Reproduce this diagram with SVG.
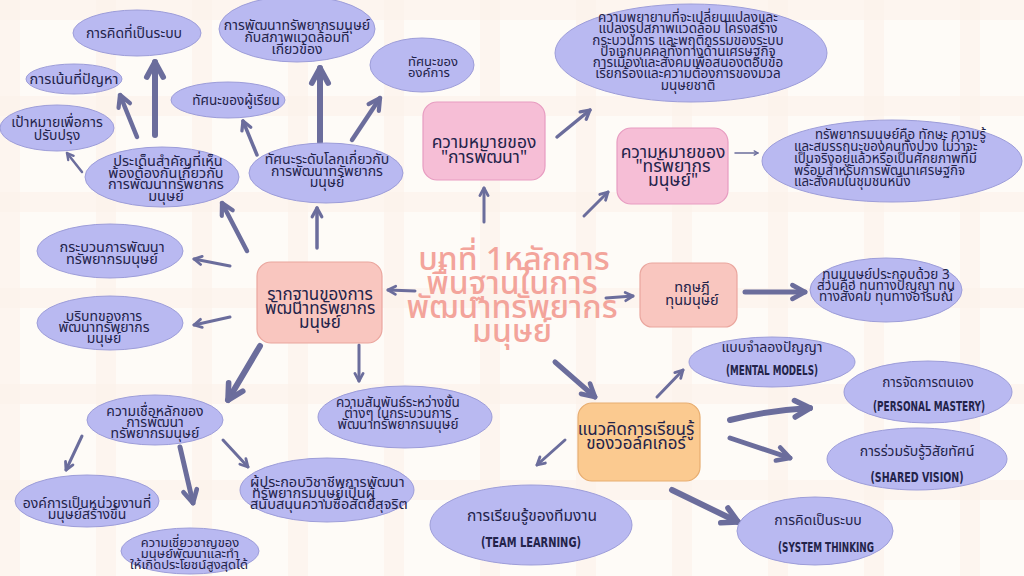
<svg xmlns="http://www.w3.org/2000/svg" width="1024" height="576" viewBox="0 0 1024 576">
<defs>
<pattern id="grid" x="0" y="0" width="96" height="96" patternUnits="userSpaceOnUse">
<rect width="96" height="96" fill="#fefbf7"/>
<rect x="0" y="0" width="20" height="96" fill="#fcf2ea" opacity="0.6"/>
<rect x="0" y="0" width="96" height="20" fill="#fcf2ea" opacity="0.6"/>
</pattern>
<marker id="ah" viewBox="0 0 10 10" markerWidth="3.6" markerHeight="3.6" refX="8.5" refY="5" orient="auto" markerUnits="strokeWidth" overflow="visible">
<path d="M1.5,1.2 L8.5,5 L1.5,8.8" fill="none" stroke="#6b6d9c" stroke-width="2.6" stroke-linecap="round" stroke-linejoin="round"/>
</marker>
</defs>
<style>
.el{fill:#b9b9f1;stroke:#9d9dd9;stroke-width:1}
.t{font-family:"Noto Sans Thai","Noto Sans Thai Looped","Loma","Garuda","Noto Sans","DejaVu Sans",sans-serif;fill:#23234a;text-anchor:middle}
.en{font-family:"DejaVu Sans Condensed","Liberation Sans Narrow","Roboto",sans-serif;font-weight:bold;font-size:14.5px;fill:#23234a;text-anchor:middle}
.pink{fill:#f6bed6;stroke:#e79cc1;stroke-width:1.2}
.sal{fill:#f9c6bf;stroke:#eaa69e;stroke-width:1.2}
.org{fill:#fbca90;stroke:#e7ad70;stroke-width:1.2}
.ar line,.ar path{stroke:#6b6d9c;fill:none;stroke-linecap:round;marker-end:url(#ah)}
.title{font-family:"Noto Sans Thai","Noto Sans Thai Looped","Loma","Garuda","Noto Sans","DejaVu Sans",sans-serif;font-size:32px;font-weight:500;fill:#f3a49b;text-anchor:middle}
</style>
<rect width="1024" height="576" fill="url(#grid)"/>

<g id="connectors" class="ar">
<line x1="155" y1="135" x2="155" y2="62" stroke-width="6"/>
<line x1="137" y1="137" x2="120" y2="95" stroke-width="4.5"/>
<line x1="82" y1="172" x2="67" y2="153" stroke-width="2.5"/>
<line x1="257" y1="155" x2="243" y2="121" stroke-width="3.5"/>
<line x1="320" y1="142" x2="320" y2="68" stroke-width="6"/>
<line x1="352" y1="140" x2="380" y2="98" stroke-width="4.5"/>
<line x1="317" y1="248" x2="317" y2="208" stroke-width="3.5"/>
<line x1="247" y1="251" x2="222" y2="203" stroke-width="4.5"/>
<line x1="230" y1="266" x2="194" y2="259" stroke-width="3"/>
<line x1="230" y1="317" x2="194" y2="325" stroke-width="3"/>
<line x1="260" y1="346" x2="228" y2="400" stroke-width="6"/>
<line x1="359" y1="345" x2="359" y2="381" stroke-width="3"/>
<line x1="415" y1="291" x2="388" y2="290" stroke-width="3"/>
<line x1="484" y1="222" x2="484" y2="188" stroke-width="3"/>
<line x1="557" y1="137" x2="590" y2="110" stroke-width="3.5"/>
<line x1="584" y1="216" x2="608" y2="192" stroke-width="3"/>
<line x1="735" y1="153" x2="758" y2="153" stroke-width="1.5"/>
<line x1="606" y1="298" x2="633" y2="296" stroke-width="3"/>
<line x1="745" y1="292" x2="805" y2="292" stroke-width="5"/>
<line x1="555" y1="362" x2="595" y2="397" stroke-width="5"/>
<line x1="657" y1="397" x2="683" y2="370" stroke-width="3"/>
<path d="M730,420 Q770,410 810,408" stroke-width="6"/>
<line x1="730" y1="438" x2="790" y2="458" stroke-width="5"/>
<line x1="672" y1="490" x2="738" y2="522" stroke-width="6"/>
<line x1="565" y1="440" x2="537" y2="465" stroke-width="3"/>
<line x1="82" y1="436" x2="66" y2="470" stroke-width="3"/>
<line x1="180" y1="447" x2="193" y2="503" stroke-width="5"/>
<line x1="223" y1="440" x2="248" y2="467" stroke-width="3"/>
</g>

<g id="n1"><ellipse class="el" cx="137" cy="33" rx="64" ry="23"/><text class="t" font-size="14" x="134" y="38">การคิดที่เป็นระบบ</text></g>
<g id="n2"><ellipse class="el" cx="74" cy="79" rx="48" ry="15"/><text class="t" font-size="14.5" x="74" y="84">การเน้นที่ปัญหา</text></g>
<g id="n3"><ellipse class="el" cx="57" cy="128" rx="57" ry="23"/><text class="t" font-size="14"><tspan x="57" y="127">เป้าหมายเพื่อการ</tspan><tspan x="57" y="140">ปรับปรุง</tspan></text></g>
<g id="n4"><ellipse class="el" cx="162" cy="177" rx="77" ry="30"/><text class="t" font-size="14.5"><tspan x="168" y="166">ประเด็นสำคัญที่เห็น</tspan><tspan x="166" y="177.5">พ้องต้องกันเกี่ยวกับ</tspan><tspan x="166" y="189">การพัฒนาทรัพยากร</tspan><tspan x="166" y="200.5">มนุษย์</tspan></text></g>
<g id="n5"><ellipse class="el" cx="297" cy="29" rx="78" ry="33"/><text class="t" font-size="14"><tspan x="297" y="30">การพัฒนาทรัพยากรมนุษย์</tspan><tspan x="297" y="42">กับสภาพแวดล้อมที่</tspan><tspan x="297" y="54">เกี่ยวข้อง</tspan></text></g>
<g id="n6"><ellipse class="el" cx="228" cy="100" rx="57" ry="18"/><text class="t" font-size="13.5" x="236" y="105">ทัศนะของผู้เรียน</text></g>
<g id="n7"><ellipse class="el" cx="422" cy="65" rx="52" ry="27"/><text class="t" font-size="13" style="text-anchor:start"><tspan x="408" y="66">ทัศนะของ</tspan><tspan x="408" y="77">องค์การ</tspan></text></g>
<g id="n8"><ellipse class="el" cx="326" cy="173" rx="77" ry="30"/><text class="t" font-size="14"><tspan x="327" y="164">ทัศนะระดับโลกเกี่ยวกับ</tspan><tspan x="327" y="176">การพัฒนาทรัพยากร</tspan><tspan x="327" y="187">มนุษย์</tspan></text></g>
<g id="n9"><rect class="pink" x="423" y="102" width="122" height="78" rx="14"/><text class="t" font-size="17.5"><tspan x="484" y="148">ความหมายของ</tspan><tspan x="484" y="163">"การพัฒนา"</tspan></text></g>
<g id="n10"><ellipse class="el" cx="691" cy="53" rx="136" ry="49"/><text class="t" font-size="13.5"><tspan x="688" y="22">ความพยายามที่จะเปลี่ยนแปลงและ</tspan><tspan x="688" y="33">แปลงรูปสภาพแวดล้อม โครงสร้าง</tspan><tspan x="688" y="45">กระบวนการ และพฤติกรรมของระบบ</tspan><tspan x="688" y="56">ปัจเจกบุคคลทั้งทางด้านเศรษฐกิจ</tspan><tspan x="688" y="67">การเมืองและสังคมเพื่อสนองตอบข้อ</tspan><tspan x="688" y="78">เรียกร้องและความต้องการของมวล</tspan><tspan x="688" y="90">มนุษยชาติ</tspan></text></g>
<g id="n11"><rect class="pink" x="617" y="128" width="111" height="76" rx="14"/><text class="t" font-size="17.5"><tspan x="673" y="158">ความหมายของ</tspan><tspan x="673" y="172">"ทรัพยากร</tspan><tspan x="673" y="186">มนุษย์"</tspan></text></g>
<g id="n12"><ellipse class="el" cx="892" cy="161" rx="130" ry="41"/><text class="t" font-size="13.3" style="text-anchor:start"><tspan x="815" y="139">ทรัพยากรมนุษย์คือ ทักษะ ความรู้</tspan><tspan x="794" y="151">และสมรรถนะของคนทั้งปวง ไม่ว่าจะ</tspan><tspan x="794" y="163">เป็นจริงอยู่แล้วหรือเป็นศักยภาพที่มี</tspan><tspan x="794" y="175">พร้อมสำหรับการพัฒนาเศรษฐกิจ</tspan><tspan x="794" y="186">และสังคมในชุมชนหนึ่ง</tspan></text></g>
<g id="n13"><text class="title"><tspan x="514" y="270">บทที่ 1หลักการ</tspan><tspan x="512" y="294">พื้นฐานในการ</tspan><tspan x="512" y="318">พัฒนาทรัพยากร</tspan><tspan x="512" y="342">มนุษย์</tspan></text></g>
<g id="n14"><rect class="sal" x="640" y="263" width="97" height="64" rx="12"/><text class="t" font-size="14.5"><tspan x="692" y="292">ทฤษฎี</tspan><tspan x="692" y="305">ทุนมนุษย์</tspan></text></g>
<g id="n15"><ellipse class="el" cx="886" cy="290" rx="76" ry="32"/><text class="t" font-size="13.5"><tspan x="886" y="279">ทุนมนุษย์ประกอบด้วย 3</tspan><tspan x="886" y="290">ส่วนคือ ทุนทางปัญญา ทุน</tspan><tspan x="886" y="301">ทางสังคม ทุนทางอารมณ์</tspan></text></g>
<g id="n16"><rect class="sal" x="257" y="262" width="125" height="81" rx="14"/><text class="t" font-size="17"><tspan x="320" y="300">รากฐานของการ</tspan><tspan x="320" y="314">พัฒนาทรัพยากร</tspan><tspan x="320" y="328">มนุษย์</tspan></text></g>
<g id="n17"><ellipse class="el" cx="110" cy="251" rx="73" ry="27"/><text class="t" font-size="14.5"><tspan x="112" y="252">กระบวนการพัฒนา</tspan><tspan x="112" y="264">ทรัพยากรมนุษย์</tspan></text></g>
<g id="n18"><ellipse class="el" cx="110" cy="323" rx="73" ry="27"/><text class="t" font-size="14"><tspan x="104" y="321">บริบทของการ</tspan><tspan x="104" y="332">พัฒนาทรัพยากร</tspan><tspan x="104" y="343">มนุษย์</tspan></text></g>
<g id="n19"><ellipse class="el" cx="155" cy="420" rx="68" ry="25"/><text class="t" font-size="14"><tspan x="155" y="416">ความเชื่อหลักของ</tspan><tspan x="155" y="427">การพัฒนา</tspan><tspan x="155" y="438">ทรัพยากรมนุษย์</tspan></text></g>
<g id="n20"><ellipse class="el" cx="405" cy="417" rx="87" ry="31"/><text class="t" font-size="13.5"><tspan x="398" y="407">ความสัมพันธ์ระหว่างขั้น</tspan><tspan x="398" y="418">ต่างๆ ในกระบวนการ</tspan><tspan x="398" y="429">พัฒนาทรัพยากรมนุษย์</tspan></text></g>
<g id="n21"><ellipse class="el" cx="87" cy="501" rx="72" ry="26"/><text class="t" font-size="14"><tspan x="87" y="508">องค์การเป็นหน่วยงานที่</tspan><tspan x="87" y="519">มนุษย์สร้างขึ้น</tspan></text></g>
<g id="n22"><ellipse class="el" cx="190" cy="551" rx="69" ry="23"/><text class="t" font-size="13"><tspan x="190" y="547">ความเชี่ยวชาญของ</tspan><tspan x="190" y="558">มนุษย์พัฒนาและทำ</tspan><tspan x="189" y="569">ให้เกิดประโยชน์สูงสุดได้</tspan></text></g>
<g id="n23"><ellipse class="el" cx="327" cy="490" rx="87" ry="32"/><text class="t" font-size="14.5" style="text-anchor:start"><tspan x="250" y="487">ผู้ประกอบวิชาชีพการพัฒนา</tspan><tspan x="252" y="498">ทรัพยากรมนุษย์เป็นผู้</tspan><tspan x="250" y="509">สนับสนุนความซื่อสัตย์สุจริต</tspan></text></g>
<g id="n24"><rect class="org" x="578" y="403" width="122" height="78" rx="14"/><text class="t" font-size="17"><tspan x="636" y="435">แนวคิดการเรียนรู้</tspan><tspan x="636" y="449">ของวอล์คเกอร์</tspan></text></g>
<g id="n25"><ellipse class="el" cx="772" cy="362" rx="83" ry="25"/><text class="t" font-size="14" x="772" y="352">แบบจำลองปัญญา</text><text class="en" x="772" y="375" textLength="92" lengthAdjust="spacingAndGlyphs">(MENTAL MODELS)</text></g>
<g id="n26"><ellipse class="el" cx="928" cy="392" rx="84" ry="31"/><text class="t" font-size="13.5" x="928" y="387">การจัดการตนเอง</text><text class="en" x="929" y="411" textLength="112" lengthAdjust="spacingAndGlyphs">(PERSONAL MASTERY)</text></g>
<g id="n27"><ellipse class="el" cx="917" cy="459" rx="90" ry="31"/><text class="t" font-size="14" x="917" y="456">การร่วมรับรู้วิสัยทัศน์</text><text class="en" x="917" y="482" textLength="93" lengthAdjust="spacingAndGlyphs">(SHARED VISION)</text></g>
<g id="n28"><ellipse class="el" cx="815" cy="531" rx="78" ry="34"/><text class="t" font-size="14" x="818" y="525">การคิดเป็นระบบ</text><text class="en" x="826" y="552" textLength="96" lengthAdjust="spacingAndGlyphs">(SYSTEM THINKING</text></g>
<g id="n29"><ellipse class="el" cx="531" cy="525" rx="101" ry="40"/><text class="t" font-size="15.5" x="532" y="521">การเรียนรู้ของทีมงาน</text><text class="en" x="531" y="547" textLength="100" lengthAdjust="spacingAndGlyphs">(TEAM LEARNING)</text></g>
</svg>
